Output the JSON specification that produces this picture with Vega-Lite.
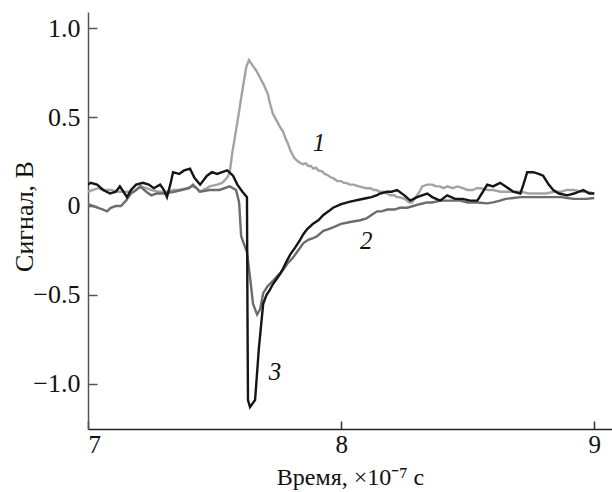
{
  "$schema": "https://vega.github.io/schema/vega-lite/v6.json",
  "width": 524,
  "height": 417,
  "autosize": "none",
  "padding": {"left": 88, "top": 12, "right": 0, "bottom": 63},
  "background": "white",
  "config": {"view": {"stroke": null}},
  "layer": [
    {
      "data": {"values": [
        {"s":"1","t":7.00,"v":0.08},{"s":"1","t":7.02,"v":0.09},{"s":"1","t":7.04,"v":0.10},{"s":"1","t":7.06,"v":0.09},{"s":"1","t":7.09,"v":0.09},{"s":"1","t":7.12,"v":0.08},{"s":"1","t":7.15,"v":0.08},{"s":"1","t":7.18,"v":0.08},{"s":"1","t":7.20,"v":0.10},{"s":"1","t":7.21,"v":0.11},{"s":"1","t":7.23,"v":0.10},{"s":"1","t":7.25,"v":0.09},{"s":"1","t":7.28,"v":0.08},{"s":"1","t":7.31,"v":0.08},{"s":"1","t":7.34,"v":0.09},{"s":"1","t":7.36,"v":0.09},{"s":"1","t":7.39,"v":0.10},{"s":"1","t":7.41,"v":0.11},{"s":"1","t":7.43,"v":0.10},{"s":"1","t":7.44,"v":0.08},{"s":"1","t":7.47,"v":0.10},{"s":"1","t":7.48,"v":0.11},{"s":"1","t":7.51,"v":0.12},{"s":"1","t":7.53,"v":0.13},{"s":"1","t":7.55,"v":0.16},{"s":"1","t":7.56,"v":0.19},{"s":"1","t":7.57,"v":0.30},{"s":"1","t":7.59,"v":0.47},{"s":"1","t":7.61,"v":0.65},{"s":"1","t":7.625,"v":0.78},{"s":"1","t":7.636,"v":0.82},{"s":"1","t":7.65,"v":0.79},{"s":"1","t":7.665,"v":0.76},{"s":"1","t":7.68,"v":0.72},{"s":"1","t":7.695,"v":0.68},{"s":"1","t":7.71,"v":0.63},{"s":"1","t":7.72,"v":0.57},{"s":"1","t":7.73,"v":0.52},{"s":"1","t":7.745,"v":0.48},{"s":"1","t":7.76,"v":0.44},{"s":"1","t":7.77,"v":0.42},{"s":"1","t":7.78,"v":0.38},{"s":"1","t":7.79,"v":0.35},{"s":"1","t":7.80,"v":0.31},{"s":"1","t":7.815,"v":0.27},{"s":"1","t":7.83,"v":0.25},{"s":"1","t":7.84,"v":0.24},{"s":"1","t":7.85,"v":0.235},{"s":"1","t":7.86,"v":0.24},{"s":"1","t":7.87,"v":0.225},{"s":"1","t":7.88,"v":0.225},{"s":"1","t":7.89,"v":0.21},{"s":"1","t":7.90,"v":0.215},{"s":"1","t":7.91,"v":0.20},{"s":"1","t":7.925,"v":0.195},{"s":"1","t":7.935,"v":0.18},{"s":"1","t":7.945,"v":0.175},{"s":"1","t":7.96,"v":0.16},{"s":"1","t":7.97,"v":0.155},{"s":"1","t":7.985,"v":0.14},{"s":"1","t":8.00,"v":0.14},{"s":"1","t":8.01,"v":0.13},{"s":"1","t":8.02,"v":0.13},{"s":"1","t":8.035,"v":0.12},{"s":"1","t":8.05,"v":0.12},{"s":"1","t":8.06,"v":0.115},{"s":"1","t":8.07,"v":0.11},{"s":"1","t":8.085,"v":0.105},{"s":"1","t":8.10,"v":0.10},{"s":"1","t":8.115,"v":0.10},{"s":"1","t":8.13,"v":0.09},{"s":"1","t":8.14,"v":0.09},{"s":"1","t":8.15,"v":0.08},{"s":"1","t":8.165,"v":0.08},{"s":"1","t":8.18,"v":0.07},{"s":"1","t":8.195,"v":0.06},{"s":"1","t":8.21,"v":0.06},{"s":"1","t":8.22,"v":0.05},{"s":"1","t":8.23,"v":0.05},{"s":"1","t":8.25,"v":0.04},{"s":"1","t":8.26,"v":0.03},{"s":"1","t":8.27,"v":0.02},{"s":"1","t":8.28,"v":0.02},{"s":"1","t":8.29,"v":0.04},{"s":"1","t":8.30,"v":0.06},{"s":"1","t":8.31,"v":0.08},{"s":"1","t":8.32,"v":0.11},{"s":"1","t":8.34,"v":0.12},{"s":"1","t":8.36,"v":0.12},{"s":"1","t":8.375,"v":0.11},{"s":"1","t":8.39,"v":0.11},{"s":"1","t":8.405,"v":0.10},{"s":"1","t":8.42,"v":0.11},{"s":"1","t":8.44,"v":0.10},{"s":"1","t":8.46,"v":0.11},{"s":"1","t":8.48,"v":0.10},{"s":"1","t":8.50,"v":0.09},{"s":"1","t":8.52,"v":0.09},{"s":"1","t":8.535,"v":0.10},{"s":"1","t":8.55,"v":0.10},{"s":"1","t":8.58,"v":0.09},{"s":"1","t":8.60,"v":0.09},{"s":"1","t":8.63,"v":0.08},{"s":"1","t":8.66,"v":0.08},{"s":"1","t":8.68,"v":0.08},{"s":"1","t":8.71,"v":0.08},{"s":"1","t":8.74,"v":0.07},{"s":"1","t":8.76,"v":0.07},{"s":"1","t":8.79,"v":0.07},{"s":"1","t":8.81,"v":0.07},{"s":"1","t":8.84,"v":0.08},{"s":"1","t":8.87,"v":0.08},{"s":"1","t":8.89,"v":0.09},{"s":"1","t":8.92,"v":0.09},{"s":"1","t":8.95,"v":0.08},{"s":"1","t":8.97,"v":0.08},{"s":"1","t":9.00,"v":0.07},

        {"s":"2","t":7.00,"v":0.01},{"s":"2","t":7.02,"v":0.00},{"s":"2","t":7.04,"v":-0.01},{"s":"2","t":7.06,"v":-0.02},{"s":"2","t":7.075,"v":-0.03},{"s":"2","t":7.09,"v":-0.01},{"s":"2","t":7.11,"v":0.00},{"s":"2","t":7.13,"v":0.00},{"s":"2","t":7.15,"v":0.03},{"s":"2","t":7.17,"v":0.07},{"s":"2","t":7.19,"v":0.09},{"s":"2","t":7.206,"v":0.11},{"s":"2","t":7.23,"v":0.08},{"s":"2","t":7.25,"v":0.06},{"s":"2","t":7.27,"v":0.07},{"s":"2","t":7.30,"v":0.07},{"s":"2","t":7.34,"v":0.08},{"s":"2","t":7.37,"v":0.09},{"s":"2","t":7.40,"v":0.10},{"s":"2","t":7.415,"v":0.12},{"s":"2","t":7.443,"v":0.08},{"s":"2","t":7.48,"v":0.09},{"s":"2","t":7.52,"v":0.09},{"s":"2","t":7.56,"v":0.11},{"s":"2","t":7.585,"v":0.09},{"s":"2","t":7.597,"v":0.02},{"s":"2","t":7.605,"v":-0.17},{"s":"2","t":7.628,"v":-0.26},{"s":"2","t":7.640,"v":-0.40},{"s":"2","t":7.652,"v":-0.55},{"s":"2","t":7.668,"v":-0.61},{"s":"2","t":7.680,"v":-0.58},{"s":"2","t":7.692,"v":-0.49},{"s":"2","t":7.71,"v":-0.45},{"s":"2","t":7.731,"v":-0.42},{"s":"2","t":7.75,"v":-0.39},{"s":"2","t":7.771,"v":-0.36},{"s":"2","t":7.79,"v":-0.32},{"s":"2","t":7.81,"v":-0.29},{"s":"2","t":7.83,"v":-0.25},{"s":"2","t":7.85,"v":-0.21},{"s":"2","t":7.87,"v":-0.19},{"s":"2","t":7.889,"v":-0.18},{"s":"2","t":7.905,"v":-0.17},{"s":"2","t":7.93,"v":-0.14},{"s":"2","t":7.95,"v":-0.13},{"s":"2","t":7.968,"v":-0.12},{"s":"2","t":8.00,"v":-0.10},{"s":"2","t":8.036,"v":-0.09},{"s":"2","t":8.075,"v":-0.08},{"s":"2","t":8.10,"v":-0.07},{"s":"2","t":8.12,"v":-0.05},{"s":"2","t":8.142,"v":-0.03},{"s":"2","t":8.16,"v":-0.03},{"s":"2","t":8.182,"v":-0.02},{"s":"2","t":8.21,"v":-0.02},{"s":"2","t":8.233,"v":-0.01},{"s":"2","t":8.26,"v":-0.01},{"s":"2","t":8.285,"v":0.00},{"s":"2","t":8.31,"v":0.01},{"s":"2","t":8.34,"v":0.02},{"s":"2","t":8.36,"v":0.02},{"s":"2","t":8.391,"v":0.03},{"s":"2","t":8.43,"v":0.03},{"s":"2","t":8.47,"v":0.03},{"s":"2","t":8.50,"v":0.02},{"s":"2","t":8.538,"v":0.02},{"s":"2","t":8.577,"v":0.015},{"s":"2","t":8.60,"v":0.02},{"s":"2","t":8.628,"v":0.03},{"s":"2","t":8.65,"v":0.04},{"s":"2","t":8.68,"v":0.045},{"s":"2","t":8.71,"v":0.05},{"s":"2","t":8.735,"v":0.05},{"s":"2","t":8.76,"v":0.05},{"s":"2","t":8.79,"v":0.05},{"s":"2","t":8.81,"v":0.05},{"s":"2","t":8.838,"v":0.05},{"s":"2","t":8.87,"v":0.05},{"s":"2","t":8.893,"v":0.045},{"s":"2","t":8.92,"v":0.04},{"s":"2","t":8.94,"v":0.04},{"s":"2","t":8.97,"v":0.04},{"s":"2","t":9.00,"v":0.045},

        {"s":"3","t":7.00,"v":0.12},{"s":"3","t":7.01,"v":0.13},{"s":"3","t":7.036,"v":0.12},{"s":"3","t":7.06,"v":0.09},{"s":"3","t":7.087,"v":0.07},{"s":"3","t":7.11,"v":0.08},{"s":"3","t":7.126,"v":0.11},{"s":"3","t":7.14,"v":0.08},{"s":"3","t":7.154,"v":0.05},{"s":"3","t":7.17,"v":0.09},{"s":"3","t":7.19,"v":0.12},{"s":"3","t":7.217,"v":0.13},{"s":"3","t":7.24,"v":0.12},{"s":"3","t":7.26,"v":0.10},{"s":"3","t":7.285,"v":0.12},{"s":"3","t":7.30,"v":0.09},{"s":"3","t":7.312,"v":0.05},{"s":"3","t":7.325,"v":0.12},{"s":"3","t":7.336,"v":0.19},{"s":"3","t":7.36,"v":0.18},{"s":"3","t":7.38,"v":0.20},{"s":"3","t":7.403,"v":0.21},{"s":"3","t":7.42,"v":0.16},{"s":"3","t":7.443,"v":0.12},{"s":"3","t":7.47,"v":0.17},{"s":"3","t":7.49,"v":0.19},{"s":"3","t":7.51,"v":0.18},{"s":"3","t":7.53,"v":0.19},{"s":"3","t":7.55,"v":0.20},{"s":"3","t":7.573,"v":0.17},{"s":"3","t":7.59,"v":0.12},{"s":"3","t":7.61,"v":0.08},{"s":"3","t":7.628,"v":0.05},{"s":"3","t":7.630,"v":-0.6},{"s":"3","t":7.632,"v":-1.09},{"s":"3","t":7.64,"v":-1.13},{"s":"3","t":7.66,"v":-1.09},{"s":"3","t":7.675,"v":-0.8},{"s":"3","t":7.692,"v":-0.55},{"s":"3","t":7.705,"v":-0.50},{"s":"3","t":7.719,"v":-0.47},{"s":"3","t":7.73,"v":-0.44},{"s":"3","t":7.745,"v":-0.41},{"s":"3","t":7.76,"v":-0.38},{"s":"3","t":7.771,"v":-0.35},{"s":"3","t":7.785,"v":-0.31},{"s":"3","t":7.80,"v":-0.27},{"s":"3","t":7.82,"v":-0.23},{"s":"3","t":7.838,"v":-0.19},{"s":"3","t":7.85,"v":-0.16},{"s":"3","t":7.866,"v":-0.13},{"s":"3","t":7.889,"v":-0.10},{"s":"3","t":7.91,"v":-0.08},{"s":"3","t":7.93,"v":-0.05},{"s":"3","t":7.95,"v":-0.03},{"s":"3","t":7.968,"v":-0.01},{"s":"3","t":8.00,"v":0.01},{"s":"3","t":8.036,"v":0.025},{"s":"3","t":8.07,"v":0.035},{"s":"3","t":8.103,"v":0.045},{"s":"3","t":8.12,"v":0.05},{"s":"3","t":8.13,"v":0.055},{"s":"3","t":8.14,"v":0.06},{"s":"3","t":8.154,"v":0.07},{"s":"3","t":8.18,"v":0.08},{"s":"3","t":8.20,"v":0.08},{"s":"3","t":8.221,"v":0.09},{"s":"3","t":8.25,"v":0.06},{"s":"3","t":8.273,"v":0.03},{"s":"3","t":8.30,"v":0.05},{"s":"3","t":8.34,"v":0.07},{"s":"3","t":8.36,"v":0.05},{"s":"3","t":8.391,"v":0.03},{"s":"3","t":8.419,"v":0.06},{"s":"3","t":8.45,"v":0.04},{"s":"3","t":8.48,"v":0.04},{"s":"3","t":8.51,"v":0.03},{"s":"3","t":8.538,"v":0.03},{"s":"3","t":8.56,"v":0.08},{"s":"3","t":8.577,"v":0.12},{"s":"3","t":8.60,"v":0.11},{"s":"3","t":8.628,"v":0.13},{"s":"3","t":8.65,"v":0.11},{"s":"3","t":8.68,"v":0.08},{"s":"3","t":8.708,"v":0.07},{"s":"3","t":8.72,"v":0.12},{"s":"3","t":8.735,"v":0.19},{"s":"3","t":8.759,"v":0.19},{"s":"3","t":8.78,"v":0.18},{"s":"3","t":8.798,"v":0.17},{"s":"3","t":8.82,"v":0.12},{"s":"3","t":8.838,"v":0.09},{"s":"3","t":8.86,"v":0.07},{"s":"3","t":8.893,"v":0.06},{"s":"3","t":8.92,"v":0.07},{"s":"3","t":8.957,"v":0.09},{"s":"3","t":8.98,"v":0.07},{"s":"3","t":9.00,"v":0.07}
      ]},
      "mark": {"type": "line", "strokeWidth": 2.4, "clip": true},
      "encoding": {
        "x": {"field": "t", "type": "quantitative",
          "scale": {"domain": [7, 9.07], "nice": false, "zero": false},
          "axis": {"values": [7, 8, 9], "labelExpr": "format(datum.value, 'd')", "labelOverlap": false, "title": "Время, ×10⁻⁷ с", "grid": false,
            "labelFont": "Liberation Serif", "labelFontSize": 25, "labelColor": "#111",
            "titleFont": "Liberation Serif", "titleFontSize": 24, "titleFontWeight": "normal", "titleColor": "#111",
            "titleY": 55, "titleBaseline": "alphabetic",
            "tickSize": -8, "tickColor": "#333", "tickWidth": 1.5, "domainColor": "#222", "domainWidth": 1.5,
            "labelPadding": 11}},
        "y": {"field": "v", "type": "quantitative",
          "scale": {"domain": [-1.253, 1.09], "nice": false, "zero": false},
          "axis": {"values": [-1, -0.5, 0, 0.5, 1], "title": "Сигнал, В", "grid": false,
            "labelExpr": "datum.value == 0 ? '0' : (datum.value < 0 ? '−' + format(-datum.value, '.1f') : format(datum.value, '.1f'))",
            "labelFont": "Liberation Serif", "labelFontSize": 26, "labelColor": "#111",
            "titleFont": "Liberation Serif", "titleFontSize": 26, "titleFontWeight": "normal", "titleColor": "#111",
            "titleX": -64, "titleY": 204, "titleBaseline": "middle", "titleAlign": "center",
            "tickSize": -9, "tickColor": "#555", "tickWidth": 1.5, "domainColor": "#555", "domainWidth": 1.5,
            "labelPadding": 17}},
        "color": {"field": "s", "type": "nominal",
          "scale": {"domain": ["1", "2", "3"], "range": ["#a3a3a3", "#6c6c6c", "#151515"]},
          "legend": null},
        "order": {"field": "t", "type": "quantitative"}
      }
    },
    {
      "data": {"values": [
        {"label": "1", "t": 7.913, "v": 0.354},
        {"label": "2", "t": 8.099, "v": -0.197},
        {"label": "3", "t": 7.739, "v": -0.933}
      ]},
      "mark": {"type": "text", "font": "Liberation Serif", "fontStyle": "italic", "fontSize": 25, "color": "#111"},
      "encoding": {
        "x": {"field": "t", "type": "quantitative"},
        "y": {"field": "v", "type": "quantitative"},
        "text": {"field": "label"}
      }
    }
  ]
}
